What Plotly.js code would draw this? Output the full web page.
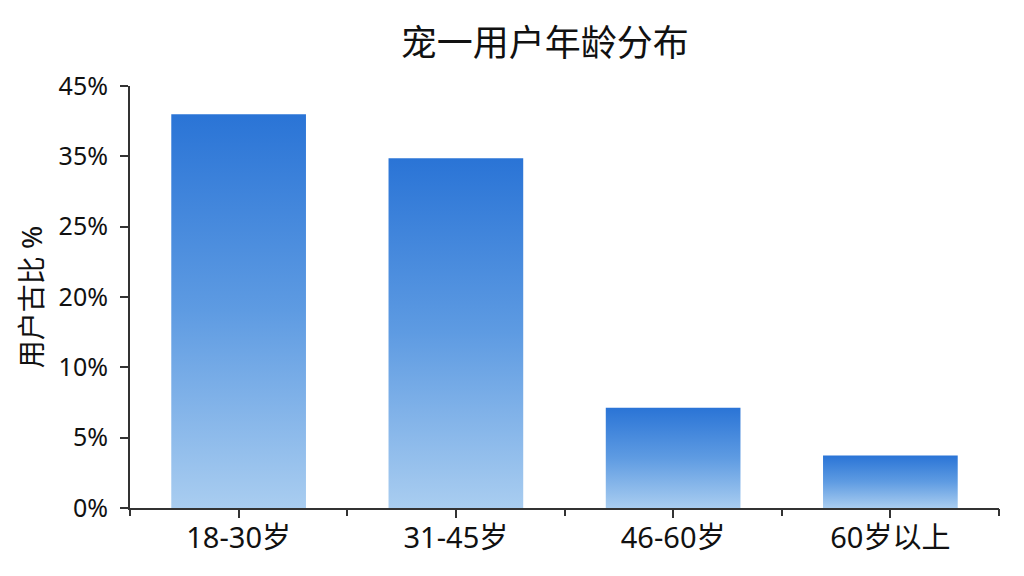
<!DOCTYPE html>
<html>
<head>
<meta charset="utf-8">
<script src="https://cdn.plot.ly/plotly-3.0.1.min.js"></script>
<style>
  html, body { margin: 0; padding: 0; background: #fff; }
  #chart { width: 1024px; height: 576px; }
</style>
</head>
<body>
<div id="chart"></div>
<script>
// age groups and bar heights (in axis units)
var ageGroups = ['18-30岁', '31-45岁', '46-60岁', '60岁以上'];
var barHeights = [42.0, 37.3, 10.7, 5.6];
// the y tick labels as printed on the reference
var yTickText = ['0%', '5%', '10%', '20%', '25%', '35%', '45%'];
var yTickVals = [0, 7.5, 15, 22.5, 30, 37.5, 45];

var font = '"Noto Sans", "Noto Sans CJK SC", sans-serif';

var bars = {
  type: 'bar',
  x: ageGroups,
  y: barHeights,
  marker: { color: '#5d9be3' },
  hoverinfo: 'skip'
};

// same bars on an overlay axis, only used to draw boundary ticks
var ghost = {
  type: 'bar',
  x: ageGroups,
  y: barHeights,
  xaxis: 'x2',
  marker: { color: 'rgba(0,0,0,0)' },
  hoverinfo: 'skip'
};

var layout = {
  width: 1024,
  height: 576,
  margin: { l: 130, r: 25, t: 86, b: 68 },
  paper_bgcolor: '#ffffff',
  plot_bgcolor: '#ffffff',
  showlegend: false,
  bargap: 0.38,
  font: { family: font, color: '#111' },
  title: {
    text: '宠一用户年龄分布',
    font: { family: font, size: 36, color: '#111' },
    x: 0.532,
    xanchor: 'center',
    y: 0.925,
    yanchor: 'middle'
  },
  xaxis: {
    type: 'category',
    showline: true,
    linecolor: '#333',
    linewidth: 2,
    ticks: 'outside',
    ticklen: 8,
    tickwidth: 2,
    tickcolor: '#333',
    ticklabelstandoff: -5,
    tickfont: { size: 29, color: '#111' },
    showgrid: false,
    zeroline: false,
    fixedrange: true
  },
  xaxis2: {
    type: 'category',
    overlaying: 'x',
    side: 'bottom',
    anchor: 'y',
    tickson: 'boundaries',
    ticks: 'outside',
    ticklen: 7,
    tickwidth: 2,
    tickcolor: '#333',
    showticklabels: false,
    showline: false,
    showgrid: false,
    zeroline: false
  },
  yaxis: {
    range: [0, 45],
    tickvals: yTickVals,
    ticktext: yTickText,
    showline: true,
    linecolor: '#333',
    linewidth: 2,
    ticks: 'outside',
    ticklen: 8,
    tickwidth: 2,
    tickcolor: '#333',
    ticklabelstandoff: 7,
    tickfont: { size: 25, color: '#111' },
    showgrid: false,
    zeroline: false,
    title: {
      text: '用户古比 %',
      font: { family: font, size: 28, color: '#111' },
      standoff: 8
    }
  }
};

Plotly.newPlot('chart', [bars, ghost], layout, { staticPlot: true }).then(function (gd) {
  // vertical gradient on each bar, dark blue on top fading to light blue
  var svg = gd.querySelector('svg.main-svg');
  var ns = 'http://www.w3.org/2000/svg';
  var defs = svg.querySelector('defs') || svg.insertBefore(document.createElementNS(ns, 'defs'), svg.firstChild);
  var grad = document.createElementNS(ns, 'linearGradient');
  grad.setAttribute('id', 'barGrad');
  grad.setAttribute('x1', '0'); grad.setAttribute('y1', '0');
  grad.setAttribute('x2', '0'); grad.setAttribute('y2', '1');
  [['0', '#2a74d6'], ['0.5', '#5e9be2'], ['1', '#a9cdf0']].forEach(function (s) {
    var stop = document.createElementNS(ns, 'stop');
    stop.setAttribute('offset', s[0]);
    stop.setAttribute('stop-color', s[1]);
    grad.appendChild(stop);
  });
  defs.appendChild(grad);
  var paths = gd.querySelectorAll('.trace.bars')[0].querySelectorAll('.point path');
  paths.forEach(function (p) { p.style.fill = 'url(#barGrad)'; });
});
</script>
</body>
</html>
